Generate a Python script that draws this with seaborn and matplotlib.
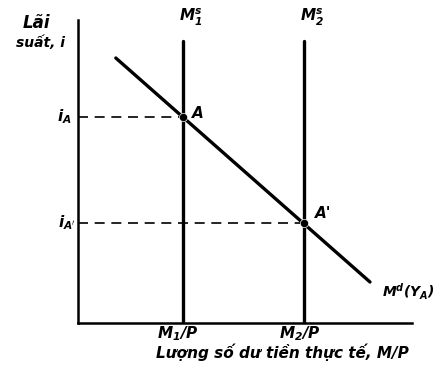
import matplotlib
matplotlib.use("Agg")
import matplotlib.pyplot as plt
import numpy as np
import pandas as pd
import seaborn as sns

# money market diagram values (arbitrary units)
supply_q = [1.0, 2.15]            # M1/P, M2/P
supply_top = 2.82
demand_x = [0.36, 2.78]
demand_y = [2.65, 0.41]
eq_x = [1.0, 2.15]
eq_i = [2.06, 1.0]
point_names = ["A", "A'"]

sns.set_style("white")
plt.rcParams["font.family"] = ["DejaVu Sans"]
plt.rcParams["text.color"] = "black"
plt.rcParams["mathtext.fontset"] = "dejavusans"
plt.rcParams["mathtext.default"] = "it"

fig = plt.figure(figsize=(4.41, 3.71), dpi=100)
ax = fig.add_axes([78 / 441, 48 / 371, 334 / 441, 303 / 371])

demand = pd.DataFrame({"q": demand_x, "i": demand_y})
sns.lineplot(data=demand, x="q", y="i", color="black", lw=2.4, ax=ax)

for q in supply_q:
    sup = pd.DataFrame({"q": [q, q], "i": [0, supply_top]})
    sns.lineplot(data=sup, x="q", y="i", color="black", lw=2.4,
                 estimator=None, sort=False, ax=ax)

for q, i in zip(eq_x, eq_i):
    ax.plot([0, q], [i, i], color="black", lw=1.2, dashes=(6, 4))

sns.scatterplot(x=eq_x, y=eq_i, color="black", s=35, zorder=5, ax=ax)

ax.set_xlim(0, 3.18)
ax.set_ylim(0, 3.03)
ax.set_xticks([])
ax.set_yticks([])
ax.set_xlabel("")
ax.set_ylabel("")
sns.despine(ax=ax)
for s in ["left", "bottom"]:
    ax.spines[s].set_linewidth(1.8)
    ax.spines[s].set_color("black")

kw = dict(style="italic", weight="bold", clip_on=False, color="black")
mk = dict(clip_on=False, color="black")
ax.text(-0.40, 3.0, "Lãi", ha="center", va="center", fontsize=12, **kw)
ax.text(-0.36, 2.80, "suất, i", ha="center", va="center", fontsize=10, **kw)
ax.text(-0.06, eq_i[0], r"$\mathbfit{i_A}$", ha="right", va="center", fontsize=11, **mk)
ax.text(-0.02, eq_i[1], r"$\mathbfit{i}_{\mathbfit{A}'}$", ha="right", va="center", fontsize=11, **mk)
ax.text(supply_q[0] + 0.07, 3.06, r"$\mathbfit{M_1^s}$", ha="center", va="center", fontsize=11, **mk)
ax.text(supply_q[1] + 0.08, 3.06, r"$\mathbfit{M_2^s}$", ha="center", va="center", fontsize=11, **mk)
ax.text(eq_x[0] + 0.09, eq_i[0] + 0.04, point_names[0], ha="left", va="center", fontsize=11, **kw)
ax.text(eq_x[1] + 0.11, eq_i[1] + 0.1, point_names[1], ha="left", va="center", fontsize=11, **kw)
ax.text(2.89, 0.31, r"$\mathbfit{M^d(Y_A)}$", ha="left", va="center", fontsize=10, **mk)
ax.text(supply_q[0] - 0.05, -0.11, r"$\mathbfit{M_1/P}$", ha="center", va="center", fontsize=11, **mk)
ax.text(supply_q[1] - 0.04, -0.11, r"$\mathbfit{M_2/P}$", ha="center", va="center", fontsize=11, **mk)
ax.text(1.95, -0.29, "Lượng số dư tiền thực tế, M/P", ha="center", va="center", fontsize=11, **kw)

fig.savefig("out.png", dpi=100)
